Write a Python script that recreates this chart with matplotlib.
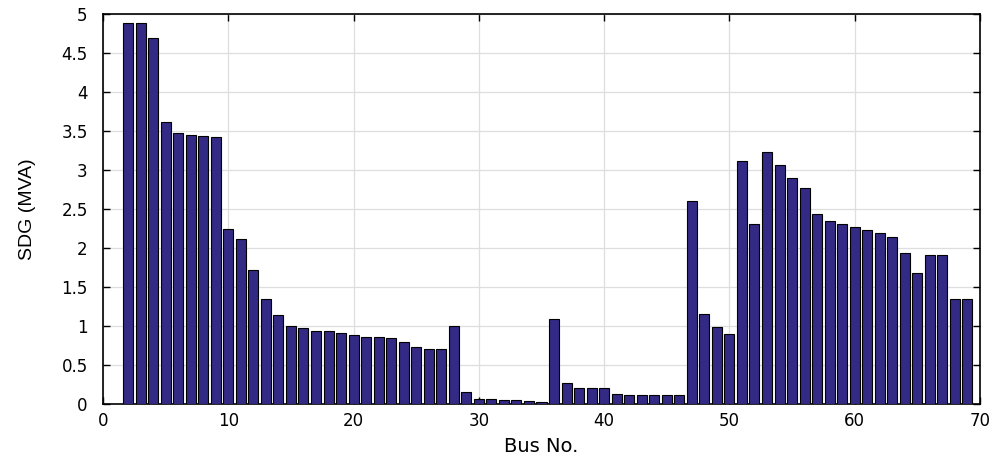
import matplotlib.pyplot as plt
import numpy as np

# SDG size per bus (bus 2 to 69)
buses = list(range(2, 70))
sdg = [4.89, 4.89, 4.69, 3.61, 3.48, 3.45, 3.43, 3.42, 2.24, 2.11,
       1.72, 1.35, 1.14, 1.00, 0.98, 0.94, 0.94, 0.91, 0.89, 0.855,
       0.855, 0.84, 0.80, 0.735, 0.71, 0.70, 1.00, 0.155, 0.064, 0.064,
       0.056, 0.047, 0.038, 0.03, 1.09, 0.265, 0.205, 0.20, 0.20, 0.124,
       0.12, 0.12, 0.12, 0.12, 0.115, 2.60, 1.15, 0.99, 0.90, 3.11,
       2.31, 3.23, 3.06, 2.90, 2.77, 2.43, 2.35, 2.31, 2.27, 2.23,
       2.19, 2.14, 1.94, 1.68, 1.91, 1.91, 1.35, 1.35]

plt.rcParams['font.family'] = ['DejaVu Sans']

fig = plt.figure(figsize=(10.03, 4.61), dpi=100)
ax = fig.add_axes([103 / 1003, 1 - 404 / 461, 877 / 1003, 390 / 461])

ax.bar(buses, sdg, width=0.8, color='#332a85', edgecolor='black', linewidth=0.8, zorder=3)

ax.set_xlim(0, 70)
ax.set_ylim(0, 5)
ax.set_xticks(np.arange(0, 71, 10))
ax.set_yticks(np.arange(0, 5.01, 0.5))
ax.set_yticklabels(['0', '0.5', '1', '1.5', '2', '2.5', '3', '3.5', '4', '4.5', '5'])
ax.tick_params(direction='in', top=True, right=True, labelsize=12, length=5, width=1)
ax.tick_params(axis='x', pad=6)
ax.tick_params(axis='y', pad=11)
ax.grid(True, color='#dedede', linewidth=0.9, zorder=0)
for s in ax.spines.values():
    s.set_linewidth(1.2)

ax.set_xlabel('Bus No.', fontsize=14, labelpad=5)
ax.set_ylabel('SDG (MVA)', fontsize=14, family=['Liberation Sans'], labelpad=18)

fig.savefig('out.png', dpi=100)
